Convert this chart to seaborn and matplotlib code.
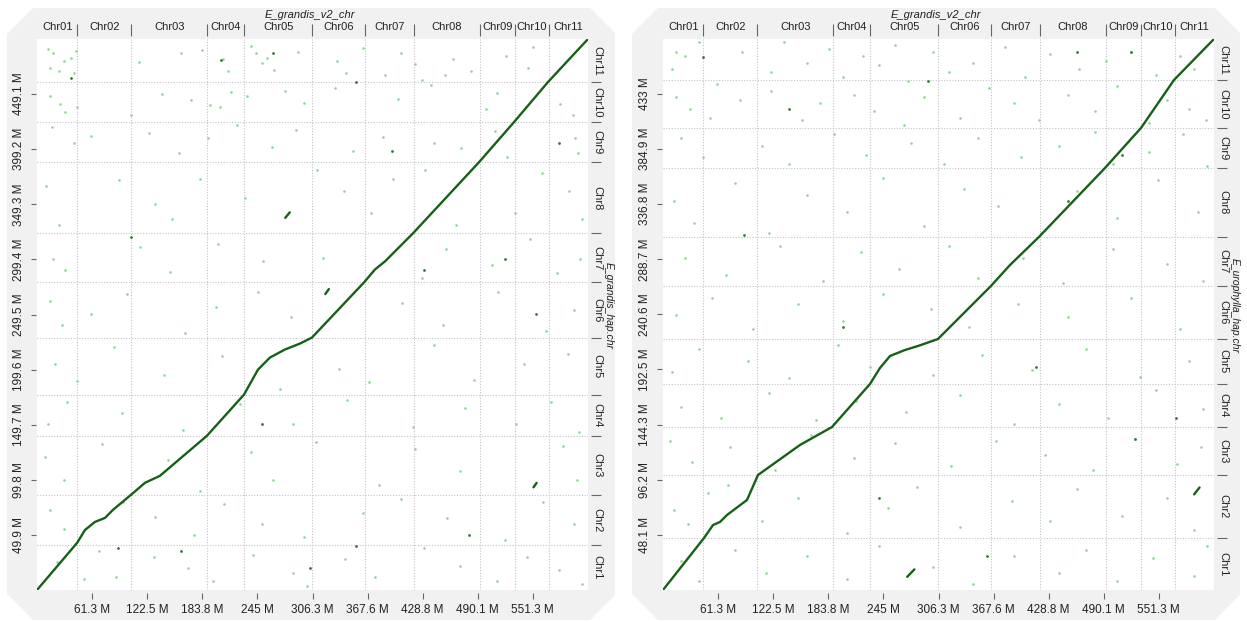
import matplotlib
matplotlib.use("Agg")
import matplotlib.pyplot as plt
import seaborn as sns
import pandas as pd
from matplotlib.patches import Polygon
from matplotlib import font_manager

# ---------------- data ----------------
x_chroms = ["Chr01", "Chr02", "Chr03", "Chr04", "Chr05", "Chr06", "Chr07", "Chr08", "Chr09", "Chr10", "Chr11"]
x_bounds = [0, 44.8, 104.8, 189.0, 230.5, 306.2, 364.3, 418.7, 492.2, 531.5, 568.8, 612.6]
x_tick_vals = [61.3, 122.5, 183.8, 245.0, 306.3, 367.6, 428.8, 490.1, 551.3]
x_tick_labels = ["61.3 M", "122.5 M", "183.8 M", "245 M", "306.3 M", "367.6 M", "428.8 M", "490.1 M", "551.3 M"]

y_chroms = ["Chr1", "Chr2", "Chr3", "Chr4", "Chr5", "Chr6", "Chr7", "Chr8", "Chr9", "Chr10", "Chr11"]

# left panel (E_grandis_hap.chr)
left_y_bounds = [0, 40.8, 86.2, 139.7, 176.9, 228.6, 278.5, 323.0, 387.4, 423.7, 460.0, 499.0]
left_y_tick_vals = [49.9, 99.8, 149.7, 199.6, 249.5, 299.4, 349.3, 399.2, 449.1]
left_y_tick_labels = ["49.9 M", "99.8 M", "149.7 M", "199.6 M", "249.5 M", "299.4 M", "349.3 M", "399.2 M", "449.1 M"]
left_diag_x = [0, 44.5, 53.4, 64.5, 75.6, 84.5, 104.5, 120.1, 136.7, 189.0, 230.1, 245.7, 259.0, 275.7, 292.4, 305.7, 363.5, 375.8, 386.9, 418.0, 491.4, 530.3, 568.1, 612.6]
left_diag_y = [0, 42.6, 54.4, 61.7, 65.3, 72.6, 86.2, 97.1, 103.4, 139.7, 176.9, 199.6, 210.5, 217.8, 223.2, 228.6, 278.5, 290.3, 297.6, 323.0, 387.4, 423.7, 460.0, 499.0]
left_seg_x = [[276.0, 281.0], [320.5, 324.5], [552.0, 555.5]]
left_seg_y = [[337.0, 342.0], [268.0, 272.5], [93.0, 97.0]]
left_noise_x = [12, 18, 15, 24, 30, 38, 43, 41, 113, 160, 183, 207, 212, 238, 244, 250, 256, 263, 290, 333, 344, 362, 405, 420, 462, 482, 454, 521, 546, 551, 428, 387,
                15, 26, 31, 44, 105, 171, 139, 192, 216, 203, 233, 276, 297, 331, 401, 438, 499, 511, 581, 596,
                17, 41, 60, 125, 158, 190, 222, 261, 288, 351, 385, 441, 471, 509, 522, 598, 601,
                10, 25, 91, 131, 150, 181, 231, 311, 341, 371, 396, 431, 466, 531, 561, 591, 606,
                18, 31, 115, 148, 201, 251, 318, 428, 455, 506, 548, 578, 604,
                14, 28, 60, 100, 165, 199, 246, 282, 406, 451, 512, 566, 597,
                20, 44, 86, 141, 206, 270, 336, 369, 441, 486, 541, 590,
                12, 33, 95, 162, 226, 285, 345, 418, 476, 532, 571, 603,
                9, 30, 72, 146, 181, 238, 262, 310, 380, 420, 470, 553, 585, 600,
                15, 30, 96, 131, 175, 208, 250, 297, 362, 405, 456, 520, 563, 597,
                22, 52, 69, 88, 130, 168, 196, 240, 285, 300, 342, 376, 430, 470, 511, 545, 580, 606]
left_noise_y = [490, 486, 473, 470, 479, 482, 488, 468, 478, 486, 489, 481, 470, 493, 486, 477, 482, 471, 487, 479, 468, 491, 486, 476, 481, 470, 466, 484, 473, 492, 462, 466,
                447, 440, 433, 437, 430, 444, 449, 439, 451, 437, 447, 452, 441, 455, 445, 457, 436, 450, 440, 430,
                419, 405, 411, 414, 396, 409, 421, 401, 417, 398, 410, 405, 400, 416, 392, 409, 396,
                366, 331, 371, 350, 336, 372, 355, 380, 361, 341, 372, 380, 331, 341, 378, 361, 336,
                300, 290, 311, 288, 313, 298, 301, 283, 309, 294, 318, 287, 300,
                262, 240, 250, 268, 233, 256, 270, 247, 260, 240, 270, 235, 254,
                205, 189, 220, 195, 212, 182, 200, 188, 222, 190, 205, 214,
                150, 170, 160, 145, 168, 150, 172, 148, 165, 150, 170, 143,
                120, 100, 132, 118, 90, 125, 100, 134, 95, 128, 108, 95, 130, 100,
                72, 55, 80, 66, 50, 78, 60, 48, 70, 82, 65, 45, 80, 60,
                25, 10, 35, 12, 30, 20, 8, 32, 15, 4, 28, 12, 38, 22, 8, 30, 18, 5]
left_dark_x = [38, 90, 205, 262, 304, 355, 430, 480, 160, 250, 520, 580, 355, 105, 395, 555]
left_dark_y = [464, 38, 480, 486, 20, 40, 290, 50, 35, 150, 300, 405, 460, 320, 398, 250]

# right panel (E_urophylla_hap.chr)
right_y_bounds = [0, 45.4, 100.4, 142.3, 179.8, 219.1, 265.4, 308.2, 368.4, 403.3, 445.2, 481.0]
right_y_tick_vals = [48.1, 96.2, 144.3, 192.5, 240.6, 288.7, 336.8, 384.9, 433.0]
right_y_tick_labels = ["48.1 M", "96.2 M", "144.3 M", "192.5 M", "240.6 M", "288.7 M", "336.8 M", "384.9 M", "433 M"]
right_diag_x = [0, 45.6, 55.6, 63.4, 71.2, 93.4, 105.6, 152.3, 187.9, 230.1, 241.2, 252.4, 269.0, 283.5, 305.7, 364.6, 385.8, 418.0, 491.4, 531.4, 568.1, 612.6]
right_diag_y = [0, 45.4, 56.7, 59.4, 65.5, 78.6, 100.4, 126.6, 142.3, 179.8, 193.8, 204.3, 209.5, 213.0, 219.1, 265.4, 283.7, 308.2, 368.4, 403.3, 445.2, 481.0]
right_seg_x = [[590.5, 596.5], [271.5, 279.5]]
right_seg_y = [[83.5, 89.5], [11.5, 18.0]]
right_noise_x = [14, 25, 40, 10, 60, 88, 120, 134, 160, 185, 200, 222, 240, 258, 272, 300, 318, 345, 380, 402, 430, 462, 492, 520, 548, 575, 590,
                 15, 30, 52, 86, 120, 155, 175, 212, 235, 268, 290, 330, 362, 390, 418, 450, 480, 505, 540, 560, 585, 604,
                 20, 45, 110, 140, 190, 226, 276, 312, 350, 398, 440, 480, 500, 540, 578, 605,
                 12, 35, 80, 118, 160, 205, 245, 290, 335, 372, 420, 460, 505, 550, 595,
                 25, 70, 130, 178, 220, 262, 318, 350, 400, 445, 500, 560, 600,
                 15, 55, 100, 150, 200, 245, 298, 340, 395, 450, 520, 575,
                 10, 40, 95, 140, 195, 230, 300, 355, 410, 470, 530, 585,
                 20, 65, 118, 170, 215, 270, 330, 390, 440, 495, 548, 600,
                 8, 32, 75, 125, 165, 212, 258, 320, 370, 425, 478, 525, 572, 598,
                 12, 28, 50, 72, 110, 150, 205, 250, 282, 330, 388, 430, 460, 510, 560, 590,
                 20, 40, 80, 115, 160, 205, 240, 300, 345, 390, 440, 470, 505, 545, 590, 605]
right_noise_y = [470, 466, 478, 455, 442, 470, 452, 478, 460, 472, 448, 466, 458, 476, 444, 470, 452, 460, 474, 448, 468, 455, 462, 470, 450, 466, 455,
                 430, 420, 412, 428, 436, 410, 425, 432, 418, 406, 430, 412, 438, 425, 410, 432, 418, 440, 408, 428, 420, 410,
                 395, 378, 388, 372, 398, 380, 390, 372, 395, 378, 388, 400, 372, 382, 398, 370,
                 340, 320, 355, 312, 345, 330, 360, 318, 350, 335, 312, 348, 325, 358, 330,
                 290, 275, 300, 270, 295, 280, 300, 272, 290, 268, 298, 285, 270,
                 240, 255, 228, 250, 235, 258, 245, 230, 250, 238, 255, 228,
                 190, 210, 200, 185, 214, 195, 188, 205, 192, 210, 186, 200,
                 160, 150, 172, 148, 165, 155, 170, 145, 162, 150, 175, 158,
                 130, 112, 125, 105, 135, 115, 128, 108, 130, 118, 105, 132, 110, 125,
                 70, 58, 85, 92, 60, 80, 50, 72, 90, 55, 78, 60, 88, 65, 80, 52,
                 25, 8, 35, 15, 30, 10, 38, 20, 5, 30, 15, 35, 8, 28, 12, 38]
right_dark_x = [45, 295, 450, 460, 360, 200, 90, 525, 510, 240, 520, 140, 570, 415]
right_dark_y = [465, 444, 340, 470, 30, 230, 310, 132, 380, 80, 470, 420, 150, 195]

# ---------------- style ----------------
sns.set_theme(style="white")
available = {f.name for f in font_manager.fontManager.ttflist}
families = [f for f in ["Liberation Sans Narrow", "Liberation Sans", "DejaVu Sans"] if f in available]
plt.rcParams["font.family"] = families

W, H = 1247, 622
fig = plt.figure(figsize=(W / 100, H / 100), dpi=100)
fig.patch.set_facecolor("white")

GRID_C = "#c4c4c4"
TICK_C = "#666666"
TXT_C = "#222222"
LIGHT = "#8fd68f"
DARK = "#2e7d32"
DIAG = "#176017"


def px_pt(x, y):
    return (x / W, 1 - y / H)


def frame(dx):
    pts = [(33, 8), (590, 8), (615, 33), (615, 595), (590, 620), (33, 620), (7, 594), (7, 34)]
    poly = Polygon([px_pt(x + dx, y) for x, y in pts], closed=True, transform=fig.transFigure,
                   facecolor="#f1f1f1", edgecolor="none", zorder=-5)
    fig.patches.append(poly)


def panel(x0, ybounds, ytv, ytl, dx, dy, segx, segy, nx, ny, kx, ky, ylab, title_x, ylab_x):
    ax = fig.add_axes([x0 / W, (H - 590) / H, 551 / W, 551 / H])
    ax.set_facecolor("white")
    for b in x_bounds[1:-1]:
        ax.axvline(b, color=GRID_C, lw=0.8, ls=(0, (1, 1.5)), zorder=1)
    for b in ybounds[1:-1]:
        ax.axhline(b, color=GRID_C, lw=0.8, ls=(0, (1, 1.5)), zorder=1)
    sns.scatterplot(x=nx, y=ny, ax=ax, color=LIGHT, s=3.5, linewidth=0, zorder=2)
    sns.scatterplot(x=kx, y=ky, ax=ax, color=DARK, s=4, linewidth=0, zorder=2)
    sns.lineplot(x=dx, y=dy, ax=ax, sort=False, estimator=None, color=DIAG, lw=1.7, zorder=3)
    for sx, sy in zip(segx, segy):
        sns.lineplot(x=sx, y=sy, ax=ax, sort=False, estimator=None, color=DIAG, lw=1.7, zorder=3)
    ax.set_xlim(x_bounds[0], x_bounds[-1])
    ax.set_ylim(ybounds[0], ybounds[-1])
    ax.set_xlabel("")
    ax.set_ylabel("")
    for sp in ax.spines.values():
        sp.set_visible(False)
    ax.spines["bottom"].set_position(("outward", 2))
    ax.spines["left"].set_position(("outward", 1))
    ax.set_xticks(x_tick_vals, x_tick_labels)
    ax.set_yticks(ytv, ytl)
    ax.tick_params(axis="x", bottom=True, direction="out", length=4.3, width=0.8, color=TICK_C,
                   pad=4.0, labelsize=8.5, labelcolor=TXT_C)
    ax.tick_params(axis="y", left=True, direction="out", length=3.6, width=0.8, color=TICK_C,
                   pad=4.3, labelsize=8.5, labelcolor=TXT_C)
    for lab in ax.get_yticklabels():
        lab.set_rotation(90)
        lab.set_va("center")
        lab.set_ha("right")

    # top chromosome axis
    top = ax.secondary_xaxis("top")
    for sp in top.spines.values():
        sp.set_visible(False)
    top.spines["top"].set_position(("outward", 2))
    xc = [(a + b) / 2 for a, b in zip(x_bounds[:-1], x_bounds[1:])]
    top.set_xticks(x_bounds[1:-1], [""] * (len(x_bounds) - 2))
    top.set_xticks(xc, x_chroms, minor=True)
    top.tick_params(axis="x", which="major", direction="out", length=8.6, width=0.8, color=TICK_C)
    top.tick_params(axis="x", which="minor", length=0, pad=3.0, labelsize=8, labelcolor=TXT_C)

    # right chromosome axis
    right = ax.secondary_yaxis("right")
    for sp in right.spines.values():
        sp.set_visible(False)
    right.spines["right"].set_position(("outward", 2))
    yc = [(a + b) / 2 for a, b in zip(ybounds[:-1], ybounds[1:])]
    right.set_yticks(ybounds[1:-1], [""] * (len(ybounds) - 2))
    right.set_yticks(yc, y_chroms, minor=True)
    right.tick_params(axis="y", which="major", direction="out", length=7.2, width=0.8, color=TICK_C)
    right.tick_params(axis="y", which="minor", length=0, pad=0.8, labelsize=8, labelcolor=TXT_C)
    for lab in right.get_yticklabels(minor=True):
        lab.set_rotation(-90)
        lab.set_va("center")
        lab.set_ha("left")

    fig.text(title_x / W, 1 - 15 / H, "E_grandis_v2_chr", ha="center", va="center",
             fontsize=8, style="italic", color=TXT_C)
    fig.text(ylab_x / W, 1 - 306 / H, ylab, ha="center", va="center", rotation=-90,
             fontsize=7.5, style="italic", color=TXT_C)
    return ax


frame(0)
frame(625)
panel(37, left_y_bounds, left_y_tick_vals, left_y_tick_labels, left_diag_x, left_diag_y,
      left_seg_x, left_seg_y, left_noise_x, left_noise_y, left_dark_x, left_dark_y,
      "E_grandis_hap.chr", 310, 609)
panel(663, right_y_bounds, right_y_tick_vals, right_y_tick_labels, right_diag_x, right_diag_y,
      right_seg_x, right_seg_y, right_noise_x, right_noise_y, right_dark_x, right_dark_y,
      "E_urophylla_hap.chr", 936, 1235)

fig.savefig("out.png", dpi=100)
